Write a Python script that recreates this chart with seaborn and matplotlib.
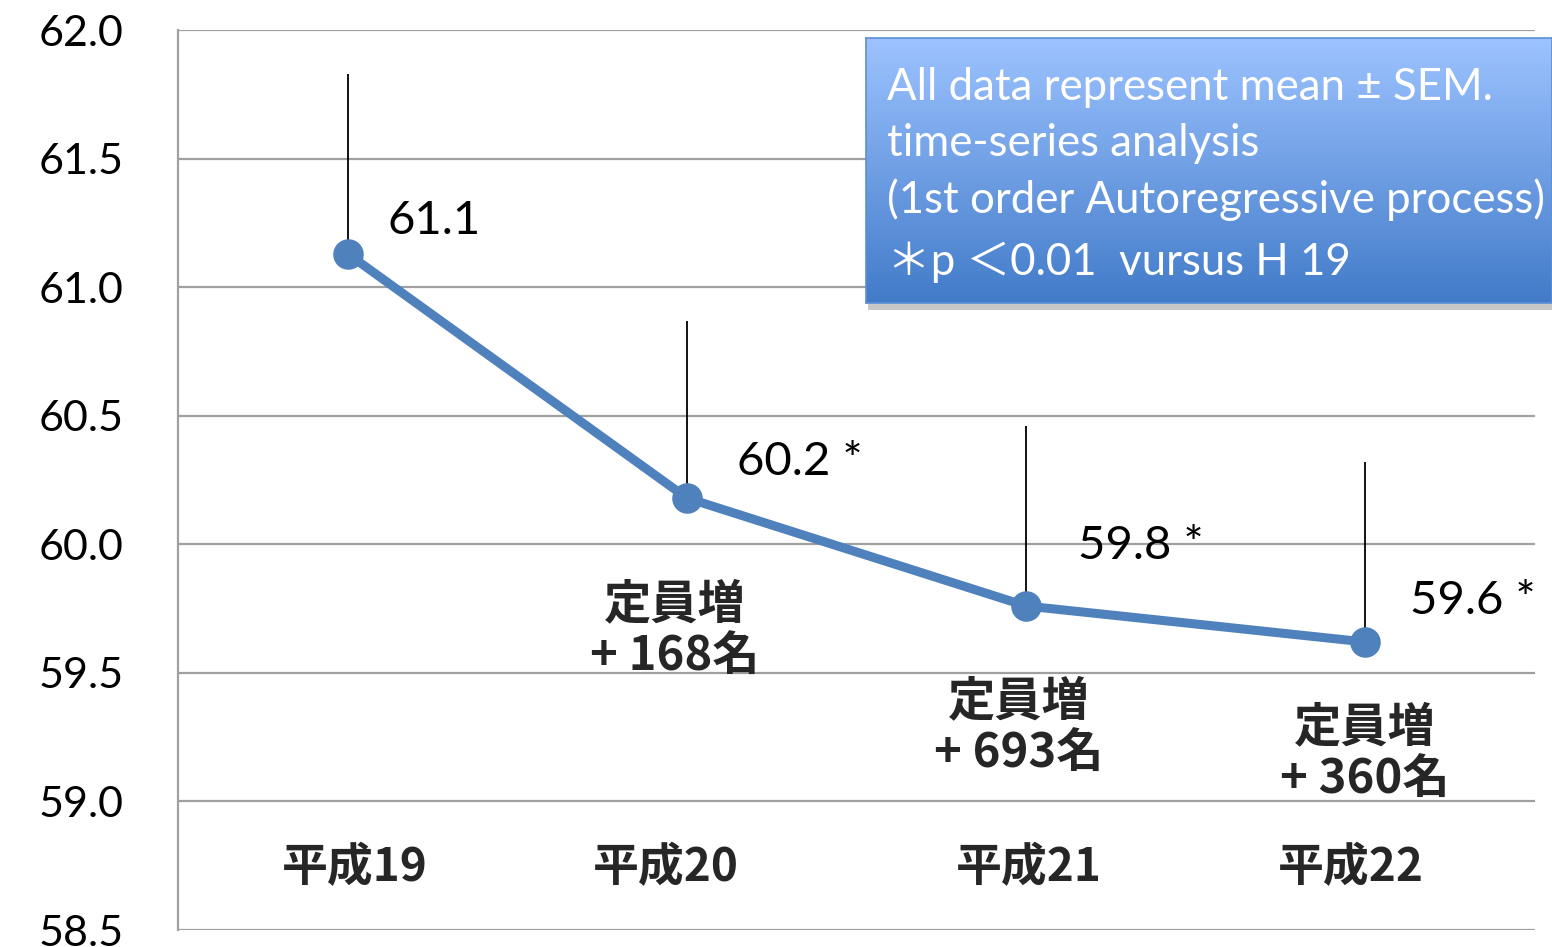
import numpy as np
import pandas as pd
import matplotlib
matplotlib.use("Agg")
import matplotlib.pyplot as plt
import seaborn as sns

# data
years = ["平成19", "平成20", "平成21", "平成22"]
means = [61.13, 60.18, 59.76, 59.62]
sem = [0.70, 0.69, 0.70, 0.70]
value_labels = ["61.1", "60.2 *", "59.8 *", "59.6 *"]
increase_labels = ["", "定員増\n+ 168名", "定員増\n+ 693名", "定員増\n+ 360名"]
note_lines = [
    "All data represent mean ± SEM.",
    "time-series analysis",
    "(1st order Autoregressive process)",
    "＊p ＜0.01  vursus H 19",
]

df = pd.DataFrame({"idx": range(len(years)), "year": years, "mean": means})

sns.set_theme(style="white")
plt.rcParams["font.family"] = ["Lato", "Noto Sans CJK JP", "DejaVu Sans"]

fig = plt.figure(figsize=(15.52, 9.47), dpi=100)
ax = fig.add_axes([178 / 1552, 1 - 930 / 947, (1535 - 178) / 1552, 900 / 947])

blue = "#4F81BD"
ax.errorbar(df["idx"], df["mean"], yerr=[np.zeros(len(sem)), sem],
            fmt="none", ecolor="black", elinewidth=1.3, capsize=0, zorder=2)
sns.lineplot(data=df, x="idx", y="mean", ax=ax, color=blue, linewidth=6.5,
             marker="o", markersize=22, markeredgewidth=0, zorder=3)

ax.set_xlim(-0.5, 3.5)
ax.set_ylim(58.5, 62.0)
ticks = np.arange(58.5, 62.01, 0.5)
ax.set_yticks(ticks)
ax.set_yticklabels([f"{v:.1f}" for v in ticks], fontsize=31)
ax.set_xticks([])
ax.set_xlabel("")
ax.set_ylabel("")
ax.grid(axis="y", color="#A0A0A0", linewidth=1.6)
ax.set_axisbelow(True)
for s in ["top", "right", "bottom"]:
    ax.spines[s].set_visible(False)
ax.spines["left"].set_color("#A0A0A0")
ax.spines["left"].set_linewidth(1.6)
ax.tick_params(axis="y", length=11, width=1.6, color="#A0A0A0", pad=28, labelcolor="black")

# value labels
val_off = [(40, 33), (50, 36), (52, 60), (45, 41)]
for i, (lab, off) in enumerate(zip(value_labels, val_off)):
    ax.annotate(lab, (i, means[i]), xytext=off, textcoords="offset pixels",
                fontsize=34, ha="left", va="center", color="black")

# staff increase labels
inc_pos = [(0, 0), (-12, 630), (-7, 727), (-1, 753)]
for i, lab in enumerate(increase_labels):
    if not lab:
        continue
    dx, py = inc_pos[i]
    yv = 62 - (py - 30) / (900 / 3.5)
    ax.annotate(lab, (i, yv), xytext=(dx, 0), textcoords="offset pixels",
                fontsize=34, fontweight="bold", ha="center", va="center",
                linespacing=1.1, family=["Noto Sans CJK JP"])

# year labels inside the plot
year_dx = [7, -21, 3, -14]
year_y = 62 - (868 - 30) / (900 / 3.5)
for i, lab in enumerate(years):
    ax.annotate(lab, (i, year_y), xytext=(year_dx[i], 0), textcoords="offset pixels",
                fontsize=33, fontweight="bold", ha="center", va="center",
                family=["Noto Sans CJK JP"])

# note box with gradient and shadow
bx0, by0, bx1, by1 = 866, 38, 1552, 303
shadow = fig.add_axes([(bx0 + 2) / 1552, 1 - (by1 + 7) / 947, (bx1 - bx0) / 1552, 10 / 947])
shadow.set_facecolor("#C8C8C8")
shadow.set_xticks([]); shadow.set_yticks([])
for s in shadow.spines.values():
    s.set_visible(False)

box = fig.add_axes([bx0 / 1552, 1 - by1 / 947, (bx1 - bx0) / 1552, (by1 - by0) / 947])
top_c = np.array([0x9D, 0xC3, 0xFF]) / 255
bot_c = np.array([0x42, 0x7B, 0xC9]) / 255
t = np.linspace(0, 1, 256)[:, None]
grad = (top_c[None, :] * (1 - t) + bot_c[None, :] * t)[:, None, :]
box.imshow(grad, aspect="auto", extent=[0, 1, 0, 1], origin="upper")
box.set_xlim(0, 1); box.set_ylim(0, 1)
box.set_xticks([]); box.set_yticks([])
for s in box.spines.values():
    s.set_color("#5B8FD6")
    s.set_linewidth(1.2)
line_y = [87, 143, 200, 262]
for txt, py in zip(note_lines, line_y):
    box.text((887 - bx0) / (bx1 - bx0), 1 - (py - by0) / (by1 - by0), txt,
             color="white", fontsize=31.5, ha="left", va="center",
             transform=box.transAxes)

fig.savefig("out.png", dpi=100)
